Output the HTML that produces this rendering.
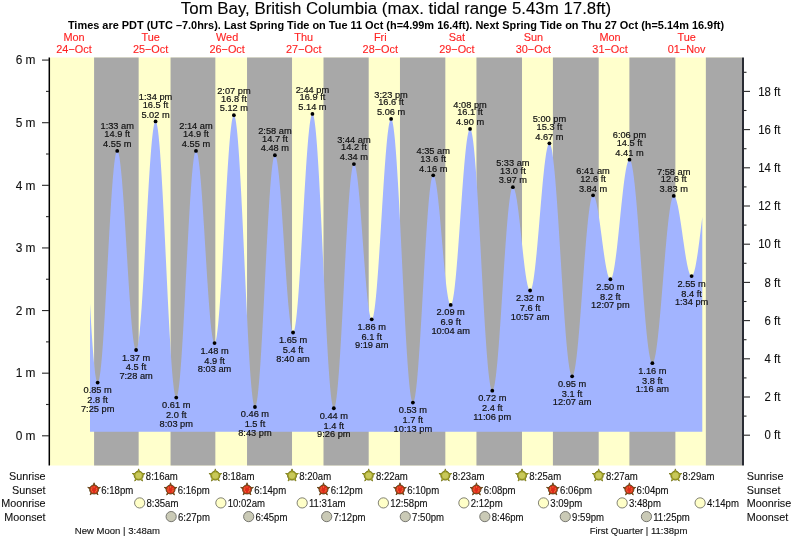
<!DOCTYPE html>
<html><head><meta charset="utf-8"><title>Tom Bay tide chart</title><style>
html,body{margin:0;padding:0;background:#fff;width:793px;height:539px;overflow:hidden}
svg{display:block;will-change:transform}
text{font-family:"Liberation Sans",Arial,Helvetica,sans-serif;fill:#111}
.title{font-size:16.85px;fill:#000;stroke:#000;stroke-width:0.1px}
.sub{font-size:10.95px;font-weight:bold;fill:#000}
.day{font-size:10.9px;fill:#ff2222;stroke:#ff2222;stroke-width:0.12px}
.ax{font-size:11.4px;fill:#111;stroke:#111;stroke-width:0.1px}
.axl{font-size:11.9px;fill:#111;stroke:#111;stroke-width:0.1px}
.tl{font-size:9.25px;fill:#111;stroke:#111;stroke-width:0.18px}
.ev{font-size:9.6px;fill:#111;stroke:#111;stroke-width:0.12px}
.rl{font-size:10.8px;fill:#111;stroke:#111;stroke-width:0.1px}
.ph{font-size:9.55px;fill:#111;white-space:pre;stroke:#111;stroke-width:0.12px}
</style></head>
<body><svg width="793" height="539" viewBox="0 0 793 539">

<rect x="50" y="57.5" width="692" height="408" fill="#ffffcc"/>
<rect x="94.09" y="57.5" width="44.56" height="408" fill="#a8a8a8"/>
<rect x="170.56" y="57.5" width="44.78" height="408" fill="#a8a8a8"/>
<rect x="247.03" y="57.5" width="44.99" height="408" fill="#a8a8a8"/>
<rect x="323.50" y="57.5" width="45.20" height="408" fill="#a8a8a8"/>
<rect x="399.97" y="57.5" width="45.36" height="408" fill="#a8a8a8"/>
<rect x="476.44" y="57.5" width="45.57" height="408" fill="#a8a8a8"/>
<rect x="552.91" y="57.5" width="45.79" height="408" fill="#a8a8a8"/>
<rect x="629.38" y="57.5" width="46.00" height="408" fill="#a8a8a8"/>
<rect x="705.85" y="57.5" width="36.15" height="408" fill="#a8a8a8"/>
<polygon points="90.00,431.80 90.00,303.78 90.44,311.61 90.87,319.18 91.31,326.46 91.75,333.41 92.19,340.01 92.62,346.22 93.06,352.01 93.50,357.37 93.94,362.26 94.37,366.66 94.81,370.56 95.25,373.93 95.69,376.77 96.12,379.05 96.56,380.77 97.00,381.93 97.44,382.50 97.87,382.50 98.31,381.93 98.75,380.79 99.18,379.09 99.62,376.83 100.06,374.04 100.50,370.71 100.93,366.87 101.37,362.54 101.81,357.73 102.25,352.48 102.68,346.80 103.12,340.73 103.56,334.30 104.00,327.53 104.43,320.47 104.87,313.13 105.31,305.57 105.74,297.82 106.18,289.91 106.62,281.89 107.06,273.80 107.49,265.67 107.93,257.55 108.37,249.47 108.81,241.47 109.24,233.61 109.68,225.90 110.12,218.39 110.56,211.13 110.99,204.13 111.43,197.45 111.87,191.11 112.31,185.14 112.74,179.57 113.18,174.43 113.62,169.74 114.05,165.54 114.49,161.83 114.93,158.64 115.37,155.98 115.80,153.87 116.24,152.31 116.68,151.32 117.12,150.90 117.55,151.03 117.99,151.69 118.43,152.88 118.87,154.58 119.30,156.79 119.74,159.49 120.18,162.68 120.61,166.33 121.05,170.43 121.49,174.95 121.93,179.87 122.36,185.16 122.80,190.80 123.24,196.76 123.68,202.99 124.11,209.49 124.55,216.19 124.99,223.08 125.43,230.12 125.86,237.26 126.30,244.47 126.74,251.71 127.18,258.95 127.61,266.14 128.05,273.25 128.49,280.23 128.92,287.06 129.36,293.70 129.80,300.11 130.24,306.25 130.67,312.10 131.11,317.62 131.55,322.79 131.99,327.57 132.42,331.94 132.86,335.89 133.30,339.38 133.74,342.40 134.17,344.93 134.61,346.96 135.05,348.49 135.49,349.49 135.92,349.97 136.36,349.91 136.80,349.29 137.23,348.10 137.67,346.35 138.11,344.06 138.55,341.22 138.98,337.86 139.42,333.98 139.86,329.62 140.30,324.79 140.73,319.52 141.17,313.83 141.61,307.75 142.05,301.31 142.48,294.55 142.92,287.49 143.36,280.17 143.79,272.64 144.23,264.92 144.67,257.05 145.11,249.08 145.54,241.04 145.98,232.97 146.42,224.92 146.86,216.92 147.29,209.02 147.73,201.25 148.17,193.65 148.61,186.26 149.04,179.12 149.48,172.25 149.92,165.71 150.36,159.51 150.79,153.70 151.23,148.29 151.67,143.32 152.10,138.80 152.54,134.77 152.98,131.25 153.42,128.24 153.85,125.77 154.29,123.85 154.73,122.48 155.17,121.68 155.60,121.45 156.04,121.81 156.48,122.78 156.92,124.35 157.35,126.51 157.79,129.27 158.23,132.59 158.67,136.48 159.10,140.91 159.54,145.86 159.98,151.32 160.41,157.25 160.85,163.63 161.29,170.43 161.73,177.63 162.16,185.19 162.60,193.08 163.04,201.26 163.48,209.70 163.91,218.35 164.35,227.19 164.79,236.17 165.23,245.25 165.66,254.40 166.10,263.57 166.54,272.72 166.97,281.82 167.41,290.81 167.85,299.67 168.29,308.35 168.72,316.81 169.16,325.02 169.60,332.95 170.04,340.55 170.47,347.79 170.91,354.64 171.35,361.08 171.79,367.06 172.22,372.57 172.66,377.59 173.10,382.08 173.54,386.03 173.97,389.42 174.41,392.24 174.85,394.48 175.28,396.12 175.72,397.16 176.16,397.59 176.60,397.41 177.03,396.64 177.47,395.28 177.91,393.33 178.35,390.80 178.78,387.70 179.22,384.06 179.66,379.88 180.10,375.19 180.53,370.01 180.97,364.37 181.41,358.29 181.84,351.80 182.28,344.94 182.72,337.73 183.16,330.22 183.59,322.43 184.03,314.41 184.47,306.20 184.91,297.83 185.34,289.35 185.78,280.79 186.22,272.20 186.66,263.63 187.09,255.10 187.53,246.67 187.97,238.37 188.41,230.24 188.84,222.33 189.28,214.66 189.72,207.29 190.15,200.24 190.59,193.55 191.03,187.26 191.47,181.38 191.90,175.95 192.34,171.01 192.78,166.56 193.22,162.63 193.65,159.24 194.09,156.41 194.53,154.16 194.97,152.48 195.40,151.40 195.84,150.91 196.28,151.00 196.72,151.62 197.15,152.77 197.59,154.43 198.03,156.60 198.46,159.26 198.90,162.40 199.34,166.01 199.78,170.06 200.21,174.53 200.65,179.40 201.09,184.64 201.53,190.22 201.96,196.12 202.40,202.29 202.84,208.70 203.28,215.33 203.71,222.13 204.15,229.06 204.59,236.10 205.02,243.19 205.46,250.31 205.90,257.40 206.34,264.44 206.77,271.39 207.21,278.20 207.65,284.84 208.09,291.27 208.52,297.46 208.96,303.37 209.40,308.97 209.84,314.24 210.27,319.14 210.71,323.64 211.15,327.72 211.59,331.36 212.02,334.54 212.46,337.23 212.90,339.44 213.33,341.13 213.77,342.31 214.21,342.97 214.65,343.10 215.08,342.68 215.52,341.68 215.96,340.11 216.40,337.98 216.83,335.31 217.27,332.10 217.71,328.37 218.15,324.15 218.58,319.44 219.02,314.28 219.46,308.69 219.90,302.70 220.33,296.34 220.77,289.64 221.21,282.64 221.64,275.37 222.08,267.87 222.52,260.17 222.96,252.31 223.39,244.34 223.83,236.29 224.27,228.20 224.71,220.12 225.14,212.09 225.58,204.14 226.02,196.32 226.46,188.66 226.89,181.20 227.33,173.99 227.77,167.06 228.20,160.44 228.64,154.16 229.08,148.26 229.52,142.77 229.95,137.72 230.39,133.12 230.83,129.01 231.27,125.41 231.70,122.32 232.14,119.78 232.58,117.78 233.02,116.35 233.45,115.48 233.89,115.19 234.33,115.49 234.77,116.41 235.20,117.95 235.64,120.10 236.08,122.85 236.51,126.18 236.95,130.09 237.39,134.56 237.83,139.56 238.26,145.09 238.70,151.10 239.14,157.59 239.58,164.51 240.01,171.85 240.45,179.57 240.89,187.63 241.33,196.01 241.76,204.66 242.20,213.55 242.64,222.65 243.07,231.90 243.51,241.29 243.95,250.75 244.39,260.27 244.82,269.78 245.26,279.26 245.70,288.66 246.14,297.94 246.57,307.07 247.01,316.00 247.45,324.69 247.89,333.12 248.32,341.24 248.76,349.02 249.20,356.42 249.64,363.42 250.07,369.99 250.51,376.08 250.95,381.70 251.38,386.79 251.82,391.35 252.26,395.36 252.70,398.80 253.13,401.65 253.57,403.90 254.01,405.55 254.45,406.58 254.88,406.99 255.32,406.78 255.76,405.99 256.20,404.60 256.63,402.62 257.07,400.07 257.51,396.95 257.95,393.28 258.38,389.08 258.82,384.37 259.26,379.17 259.69,373.50 260.13,367.39 260.57,360.88 261.01,353.99 261.44,346.75 261.88,339.20 262.32,331.37 262.76,323.31 263.19,315.04 263.63,306.62 264.07,298.07 264.51,289.44 264.94,280.78 265.38,272.11 265.82,263.49 266.25,254.95 266.69,246.54 267.13,238.29 267.57,230.24 268.00,222.44 268.44,214.91 268.88,207.70 269.32,200.84 269.75,194.35 270.19,188.28 270.63,182.65 271.07,177.49 271.50,172.82 271.94,168.66 272.38,165.04 272.82,161.96 273.25,159.46 273.69,157.53 274.13,156.18 274.56,155.43 275.00,155.28 275.44,155.65 275.88,156.53 276.31,157.91 276.75,159.77 277.19,162.12 277.63,164.93 278.06,168.20 278.50,171.89 278.94,176.00 279.38,180.49 279.81,185.35 280.25,190.53 280.69,196.03 281.13,201.79 281.56,207.80 282.00,214.01 282.44,220.39 282.87,226.91 283.31,233.52 283.75,240.19 284.19,246.88 284.62,253.56 285.06,260.18 285.50,266.71 285.94,273.10 286.37,279.33 286.81,285.36 287.25,291.15 287.69,296.67 288.12,301.89 288.56,306.78 289.00,311.31 289.43,315.46 289.87,319.19 290.31,322.50 290.75,325.36 291.18,327.75 291.62,329.67 292.06,331.09 292.50,332.02 292.93,332.45 293.37,332.36 293.81,331.72 294.25,330.54 294.68,328.81 295.12,326.56 295.56,323.78 296.00,320.50 296.43,316.73 296.87,312.48 297.31,307.79 297.74,302.67 298.18,297.15 298.62,291.26 299.06,285.02 299.49,278.48 299.93,271.65 300.37,264.58 300.81,257.31 301.24,249.86 301.68,242.27 302.12,234.59 302.56,226.86 302.99,219.10 303.43,211.37 303.87,203.69 304.30,196.12 304.74,188.68 305.18,181.41 305.62,174.36 306.05,167.55 306.49,161.02 306.93,154.80 307.37,148.93 307.80,143.43 308.24,138.34 308.68,133.67 309.12,129.45 309.55,125.71 309.99,122.45 310.43,119.71 310.87,117.48 311.30,115.79 311.74,114.64 312.18,114.03 312.61,113.98 313.05,114.53 313.49,115.68 313.93,117.43 314.36,119.78 314.80,122.71 315.24,126.21 315.68,130.26 316.11,134.86 316.55,139.98 316.99,145.60 317.43,151.70 317.86,158.24 318.30,165.22 318.74,172.58 319.18,180.32 319.61,188.39 320.05,196.75 320.49,205.39 320.92,214.25 321.36,223.31 321.80,232.52 322.24,241.85 322.67,251.26 323.11,260.71 323.55,270.16 323.99,279.58 324.42,288.92 324.86,298.14 325.30,307.21 325.74,316.09 326.17,324.74 326.61,333.13 327.05,341.23 327.48,348.99 327.92,356.39 328.36,363.39 328.80,369.98 329.23,376.11 329.67,381.77 330.11,386.93 330.55,391.57 330.98,395.67 331.42,399.21 331.86,402.19 332.30,404.58 332.73,406.38 333.17,407.58 333.61,408.18 334.05,408.17 334.48,407.59 334.92,406.44 335.36,404.73 335.79,402.46 336.23,399.66 336.67,396.32 337.11,392.47 337.54,388.12 337.98,383.29 338.42,378.01 338.86,372.31 339.29,366.19 339.73,359.71 340.17,352.88 340.61,345.74 341.04,338.32 341.48,330.66 341.92,322.79 342.36,314.75 342.79,306.58 343.23,298.31 343.67,289.98 344.10,281.63 344.54,273.31 344.98,265.05 345.42,256.88 345.85,248.85 346.29,241.00 346.73,233.35 347.17,225.96 347.60,218.84 348.04,212.04 348.48,205.58 348.92,199.50 349.35,193.83 349.79,188.58 350.23,183.80 350.66,179.49 351.10,175.67 351.54,172.38 351.98,169.61 352.41,167.39 352.85,165.72 353.29,164.62 353.73,164.08 354.16,164.10 354.60,164.59 355.04,165.54 355.48,166.94 355.91,168.78 356.35,171.06 356.79,173.76 357.23,176.86 357.66,180.34 358.10,184.19 358.54,188.39 358.97,192.90 359.41,197.70 359.85,202.76 360.29,208.05 360.72,213.54 361.16,219.20 361.60,225.00 362.04,230.89 362.47,236.85 362.91,242.83 363.35,248.81 363.79,254.75 364.22,260.61 364.66,266.35 365.10,271.95 365.53,277.37 365.97,282.58 366.41,287.54 366.85,292.23 367.28,296.62 367.72,300.69 368.16,304.40 368.60,307.74 369.03,310.69 369.47,313.23 369.91,315.34 370.35,317.01 370.78,318.24 371.22,319.01 371.66,319.32 372.10,319.15 372.53,318.49 372.97,317.32 373.41,315.65 373.84,313.50 374.28,310.88 374.72,307.79 375.16,304.26 375.59,300.30 376.03,295.93 376.47,291.17 376.91,286.05 377.34,280.59 377.78,274.82 378.22,268.78 378.66,262.48 379.09,255.96 379.53,249.26 379.97,242.41 380.41,235.44 380.84,228.39 381.28,221.29 381.72,214.18 382.15,207.09 382.59,200.07 383.03,193.14 383.47,186.35 383.90,179.71 384.34,173.28 384.78,167.08 385.22,161.14 385.65,155.49 386.09,150.16 386.53,145.18 386.97,140.57 387.40,136.36 387.84,132.57 388.28,129.21 388.71,126.30 389.15,123.86 389.59,121.90 390.03,120.43 390.46,119.46 390.90,118.99 391.34,119.03 391.78,119.63 392.21,120.80 392.65,122.51 393.09,124.78 393.53,127.58 393.96,130.92 394.40,134.77 394.84,139.12 395.28,143.95 395.71,149.25 396.15,154.99 396.59,161.15 397.02,167.70 397.46,174.63 397.90,181.90 398.34,189.48 398.77,197.34 399.21,205.45 399.65,213.79 400.09,222.31 400.52,230.98 400.96,239.78 401.40,248.65 401.84,257.57 402.27,266.51 402.71,275.42 403.15,284.28 403.59,293.04 404.02,301.68 404.46,310.15 404.90,318.42 405.33,326.47 405.77,334.26 406.21,341.75 406.65,348.92 407.08,355.75 407.52,362.19 407.96,368.24 408.40,373.85 408.83,379.02 409.27,383.72 409.71,387.93 410.15,391.63 410.58,394.82 411.02,397.47 411.46,399.58 411.89,401.14 412.33,402.15 412.77,402.59 413.21,402.48 413.64,401.85 414.08,400.70 414.52,399.04 414.96,396.88 415.39,394.22 415.83,391.09 416.27,387.48 416.71,383.43 417.14,378.94 417.58,374.04 418.02,368.76 418.46,363.10 418.89,357.11 419.33,350.81 419.77,344.22 420.20,337.39 420.64,330.33 421.08,323.08 421.52,315.67 421.95,308.14 422.39,300.53 422.83,292.86 423.27,285.17 423.70,277.51 424.14,269.89 424.58,262.36 425.02,254.95 425.45,247.70 425.89,240.64 426.33,233.80 426.76,227.21 427.20,220.90 427.64,214.90 428.08,209.24 428.51,203.95 428.95,199.05 429.39,194.55 429.83,190.49 430.26,186.88 430.70,183.74 431.14,181.07 431.58,178.90 432.01,177.24 432.45,176.08 432.89,175.44 433.33,175.32 433.76,175.62 434.20,176.33 434.64,177.42 435.07,178.91 435.51,180.77 435.95,183.00 436.39,185.58 436.82,188.49 437.26,191.72 437.70,195.26 438.14,199.06 438.57,203.13 439.01,207.42 439.45,211.91 439.89,216.57 440.32,221.38 440.76,226.31 441.20,231.32 441.64,236.38 442.07,241.47 442.51,246.55 442.95,251.59 443.38,256.56 443.82,261.43 444.26,266.16 444.70,270.74 445.13,275.12 445.57,279.29 446.01,283.22 446.45,286.89 446.88,290.26 447.32,293.33 447.76,296.07 448.20,298.46 448.63,300.49 449.07,302.16 449.51,303.43 449.94,304.32 450.38,304.82 450.82,304.91 451.26,304.57 451.69,303.79 452.13,302.57 452.57,300.92 453.01,298.85 453.44,296.37 453.88,293.48 454.32,290.21 454.76,286.57 455.19,282.58 455.63,278.26 456.07,273.64 456.51,268.72 456.94,263.55 457.38,258.14 457.82,252.52 458.25,246.72 458.69,240.77 459.13,234.71 459.57,228.55 460.00,222.34 460.44,216.10 460.88,209.86 461.32,203.66 461.75,197.52 462.19,191.48 462.63,185.58 463.07,179.83 463.50,174.26 463.94,168.91 464.38,163.81 464.82,158.97 465.25,154.42 465.69,150.19 466.13,146.29 466.56,142.75 467.00,139.58 467.44,136.81 467.88,134.43 468.31,132.47 468.75,130.94 469.19,129.84 469.63,129.18 470.06,128.96 470.50,129.22 470.94,129.97 471.38,131.22 471.81,132.95 472.25,135.18 472.69,137.88 473.12,141.04 473.56,144.66 474.00,148.72 474.44,153.21 474.87,158.10 475.31,163.38 475.75,169.03 476.19,175.02 476.62,181.34 477.06,187.96 477.50,194.85 477.94,202.00 478.37,209.36 478.81,216.91 479.25,224.63 479.69,232.49 480.12,240.44 480.56,248.48 481.00,256.55 481.43,264.64 481.87,272.71 482.31,280.73 482.75,288.67 483.18,296.50 483.62,304.19 484.06,311.72 484.50,319.04 484.93,326.14 485.37,332.98 485.81,339.54 486.25,345.80 486.68,351.74 487.12,357.32 487.56,362.53 487.99,367.34 488.43,371.75 488.87,375.73 489.31,379.26 489.74,382.34 490.18,384.95 490.62,387.09 491.06,388.73 491.49,389.89 491.93,390.55 492.37,390.71 492.81,390.40 493.24,389.64 493.68,388.43 494.12,386.77 494.56,384.69 494.99,382.17 495.43,379.24 495.87,375.91 496.30,372.19 496.74,368.10 497.18,363.65 497.62,358.88 498.05,353.79 498.49,348.41 498.93,342.77 499.37,336.89 499.80,330.79 500.24,324.51 500.68,318.07 501.12,311.50 501.55,304.83 501.99,298.09 502.43,291.31 502.87,284.52 503.30,277.74 503.74,271.02 504.18,264.38 504.61,257.85 505.05,251.45 505.49,245.22 505.93,239.19 506.36,233.38 506.80,227.82 507.24,222.53 507.68,217.53 508.11,212.86 508.55,208.52 508.99,204.54 509.43,200.94 509.86,197.73 510.30,194.92 510.74,192.54 511.17,190.58 511.61,189.07 512.05,187.99 512.49,187.37 512.92,187.20 513.36,187.41 513.80,187.94 514.24,188.80 514.67,189.97 515.11,191.46 515.55,193.24 515.99,195.32 516.42,197.67 516.86,200.29 517.30,203.15 517.74,206.23 518.17,209.53 518.61,213.01 519.05,216.65 519.48,220.44 519.92,224.34 520.36,228.34 520.80,232.40 521.23,236.51 521.67,240.63 522.11,244.73 522.55,248.80 522.98,252.81 523.42,256.73 523.86,260.53 524.30,264.20 524.73,267.71 525.17,271.03 525.61,274.15 526.05,277.04 526.48,279.69 526.92,282.08 527.36,284.20 527.79,286.03 528.23,287.56 528.67,288.78 529.11,289.68 529.54,290.26 529.98,290.51 530.42,290.42 530.86,289.96 531.29,289.14 531.73,287.94 532.17,286.39 532.61,284.48 533.04,282.24 533.48,279.66 533.92,276.77 534.35,273.57 534.79,270.08 535.23,266.33 535.67,262.32 536.10,258.09 536.54,253.65 536.98,249.02 537.42,244.23 537.85,239.30 538.29,234.26 538.73,229.13 539.17,223.94 539.60,218.71 540.04,213.48 540.48,208.26 540.92,203.08 541.35,197.98 541.79,192.97 542.23,188.08 542.66,183.34 543.10,178.77 543.54,174.40 543.98,170.24 544.41,166.31 544.85,162.64 545.29,159.25 545.73,156.15 546.16,153.35 546.60,150.88 547.04,148.75 547.48,146.95 547.91,145.52 548.35,144.44 548.79,143.73 549.22,143.40 549.66,143.44 550.10,143.91 550.54,144.80 550.97,146.11 551.41,147.84 551.85,149.97 552.29,152.51 552.72,155.45 553.16,158.76 553.60,162.44 554.04,166.49 554.47,170.87 554.91,175.58 555.35,180.59 555.79,185.90 556.22,191.48 556.66,197.31 557.10,203.36 557.53,209.63 557.97,216.07 558.41,222.68 558.85,229.43 559.28,236.28 559.72,243.22 560.16,250.22 560.60,257.26 561.03,264.31 561.47,271.34 561.91,278.32 562.35,285.24 562.78,292.07 563.22,298.78 563.66,305.35 564.10,311.75 564.53,317.96 564.97,323.96 565.41,329.72 565.84,335.23 566.28,340.46 566.72,345.39 567.16,350.02 567.59,354.31 568.03,358.26 568.47,361.84 568.91,365.06 569.34,367.88 569.78,370.32 570.22,372.34 570.66,373.96 571.09,375.16 571.53,375.94 571.97,376.29 572.40,376.22 572.84,375.77 573.28,374.92 573.72,373.70 574.15,372.09 574.59,370.12 575.03,367.78 575.47,365.09 575.90,362.06 576.34,358.70 576.78,355.03 577.22,351.06 577.65,346.81 578.09,342.30 578.53,337.55 578.97,332.57 579.40,327.39 579.84,322.04 580.28,316.53 580.71,310.88 581.15,305.13 581.59,299.30 582.03,293.40 582.46,287.48 582.90,281.55 583.34,275.63 583.78,269.76 584.21,263.96 584.65,258.25 585.09,252.67 585.53,247.22 585.96,241.94 586.40,236.85 586.84,231.97 587.28,227.32 587.71,222.92 588.15,218.79 588.59,214.96 589.02,211.42 589.46,208.21 589.90,205.33 590.34,202.79 590.77,200.61 591.21,198.80 591.65,197.36 592.09,196.31 592.52,195.63 592.96,195.35 593.40,195.42 593.84,195.75 594.27,196.34 594.71,197.20 595.15,198.30 595.58,199.65 596.02,201.23 596.46,203.04 596.90,205.07 597.33,207.30 597.77,209.71 598.21,212.30 598.65,215.05 599.08,217.94 599.52,220.94 599.96,224.05 600.40,227.25 600.83,230.50 601.27,233.80 601.71,237.12 602.15,240.45 602.58,243.75 603.02,247.01 603.46,250.21 603.89,253.33 604.33,256.35 604.77,259.25 605.21,262.01 605.64,264.62 606.08,267.05 606.52,269.30 606.96,271.35 607.39,273.18 607.83,274.79 608.27,276.16 608.71,277.29 609.14,278.17 609.58,278.79 610.02,279.15 610.45,279.25 610.89,279.05 611.33,278.55 611.77,277.74 612.20,276.63 612.64,275.22 613.08,273.52 613.52,271.55 613.95,269.30 614.39,266.80 614.83,264.05 615.27,261.07 615.70,257.87 616.14,254.48 616.58,250.90 617.02,247.16 617.45,243.28 617.89,239.28 618.33,235.17 618.76,230.98 619.20,226.73 619.64,222.44 620.08,218.14 620.51,213.84 620.95,209.58 621.39,205.36 621.83,201.22 622.26,197.17 622.70,193.24 623.14,189.44 623.58,185.80 624.01,182.33 624.45,179.05 624.89,175.99 625.33,173.15 625.76,170.54 626.20,168.20 626.64,166.11 627.07,164.31 627.51,162.78 627.95,161.56 628.39,160.63 628.82,160.00 629.26,159.69 629.70,159.69 630.14,160.05 630.57,160.77 631.01,161.86 631.45,163.31 631.89,165.11 632.32,167.26 632.76,169.75 633.20,172.57 633.63,175.71 634.07,179.16 634.51,182.91 634.95,186.94 635.38,191.24 635.82,195.79 636.26,200.58 636.70,205.58 637.13,210.79 637.57,216.19 638.01,221.74 638.45,227.44 638.88,233.26 639.32,239.19 639.76,245.19 640.20,251.25 640.63,257.35 641.07,263.46 641.51,269.57 641.94,275.65 642.38,281.67 642.82,287.62 643.26,293.48 643.69,299.22 644.13,304.83 644.57,310.27 645.01,315.54 645.44,320.62 645.88,325.48 646.32,330.11 646.76,334.50 647.19,338.62 647.63,342.46 648.07,346.01 648.51,349.25 648.94,352.17 649.38,354.77 649.82,357.03 650.25,358.95 650.69,360.51 651.13,361.72 651.57,362.56 652.00,363.04 652.44,363.15 652.88,362.91 653.32,362.33 653.75,361.40 654.19,360.14 654.63,358.54 655.07,356.62 655.50,354.38 655.94,351.83 656.38,348.98 656.81,345.85 657.25,342.44 657.69,338.77 658.13,334.86 658.56,330.72 659.00,326.36 659.44,321.82 659.88,317.10 660.31,312.22 660.75,307.21 661.19,302.09 661.63,296.87 662.06,291.58 662.50,286.24 662.94,280.88 663.38,275.51 663.81,270.15 664.25,264.84 664.69,259.58 665.12,254.41 665.56,249.34 666.00,244.40 666.44,239.60 666.87,234.96 667.31,230.51 667.75,226.27 668.19,222.24 668.62,218.45 669.06,214.91 669.50,211.64 669.94,208.65 670.37,205.96 670.81,203.56 671.25,201.48 671.68,199.73 672.12,198.30 672.56,197.21 673.00,196.45 673.43,196.05 673.87,195.98 674.31,196.17 674.75,196.60 675.18,197.26 675.62,198.15 676.06,199.27 676.50,200.60 676.93,202.14 677.37,203.88 677.81,205.82 678.25,207.93 678.68,210.20 679.12,212.63 679.56,215.20 679.99,217.89 680.43,220.69 680.87,223.58 681.31,226.55 681.74,229.56 682.18,232.62 682.62,235.70 683.06,238.78 683.49,241.84 683.93,244.87 684.37,247.85 684.81,250.76 685.24,253.58 685.68,256.29 686.12,258.89 686.56,261.35 686.99,263.66 687.43,265.81 687.87,267.79 688.30,269.57 688.74,271.16 689.18,272.54 689.62,273.70 690.05,274.64 690.49,275.36 690.93,275.84 691.37,276.08 691.80,276.09 692.24,275.84 692.68,275.34 693.12,274.58 693.55,273.56 693.99,272.31 694.43,270.81 694.86,269.09 695.30,267.14 695.74,264.98 696.18,262.62 696.61,260.07 697.05,257.35 697.49,254.47 697.93,251.44 698.36,248.28 698.80,245.02 699.24,241.65 699.68,238.21 700.11,234.71 700.55,231.17 700.99,227.61 701.43,224.04 701.86,220.49 702.30,216.98 702.30,431.80" fill="#a2b4ff"/>
<line x1="49.3" y1="57.5" x2="49.3" y2="465.5" stroke="#000" stroke-width="1.5"/>
<line x1="743" y1="57.5" x2="743" y2="465.5" stroke="#2a2c34" stroke-width="2"/>
<line x1="42" y1="435.80" x2="49" y2="435.80" stroke="#2a2a2a" stroke-width="1.1"/>
<text x="35.50" y="440.00" class="axl" text-anchor="end">0 m</text>
<line x1="42" y1="373.18" x2="49" y2="373.18" stroke="#2a2a2a" stroke-width="1.1"/>
<text x="35.50" y="377.38" class="axl" text-anchor="end">1 m</text>
<line x1="42" y1="310.56" x2="49" y2="310.56" stroke="#2a2a2a" stroke-width="1.1"/>
<text x="35.50" y="314.76" class="axl" text-anchor="end">2 m</text>
<line x1="42" y1="247.94" x2="49" y2="247.94" stroke="#2a2a2a" stroke-width="1.1"/>
<text x="35.50" y="252.14" class="axl" text-anchor="end">3 m</text>
<line x1="42" y1="185.32" x2="49" y2="185.32" stroke="#2a2a2a" stroke-width="1.1"/>
<text x="35.50" y="189.52" class="axl" text-anchor="end">4 m</text>
<line x1="42" y1="122.70" x2="49" y2="122.70" stroke="#2a2a2a" stroke-width="1.1"/>
<text x="35.50" y="126.90" class="axl" text-anchor="end">5 m</text>
<line x1="42" y1="60.08" x2="49" y2="60.08" stroke="#2a2a2a" stroke-width="1.1"/>
<text x="35.50" y="64.28" class="axl" text-anchor="end">6 m</text>
<line x1="46" y1="404.49" x2="49" y2="404.49" stroke="#2a2a2a" stroke-width="1.1"/>
<line x1="46" y1="341.87" x2="49" y2="341.87" stroke="#2a2a2a" stroke-width="1.1"/>
<line x1="46" y1="279.25" x2="49" y2="279.25" stroke="#2a2a2a" stroke-width="1.1"/>
<line x1="46" y1="216.63" x2="49" y2="216.63" stroke="#2a2a2a" stroke-width="1.1"/>
<line x1="46" y1="154.01" x2="49" y2="154.01" stroke="#2a2a2a" stroke-width="1.1"/>
<line x1="46" y1="91.39" x2="49" y2="91.39" stroke="#2a2a2a" stroke-width="1.1"/>
<line x1="744" y1="435.20" x2="750" y2="435.20" stroke="#2a2a2a" stroke-width="1.1"/>
<text transform="translate(780.40 439.40) scale(1 1.060)" class="ax" text-anchor="end">0 ft</text>
<line x1="744" y1="416.10" x2="746.5" y2="416.10" stroke="#2a2a2a" stroke-width="1.1"/>
<line x1="744" y1="397.00" x2="750" y2="397.00" stroke="#2a2a2a" stroke-width="1.1"/>
<text transform="translate(780.40 401.20) scale(1 1.060)" class="ax" text-anchor="end">2 ft</text>
<line x1="744" y1="377.90" x2="746.5" y2="377.90" stroke="#2a2a2a" stroke-width="1.1"/>
<line x1="744" y1="358.80" x2="750" y2="358.80" stroke="#2a2a2a" stroke-width="1.1"/>
<text transform="translate(780.40 363.00) scale(1 1.060)" class="ax" text-anchor="end">4 ft</text>
<line x1="744" y1="339.70" x2="746.5" y2="339.70" stroke="#2a2a2a" stroke-width="1.1"/>
<line x1="744" y1="320.60" x2="750" y2="320.60" stroke="#2a2a2a" stroke-width="1.1"/>
<text transform="translate(780.40 324.80) scale(1 1.060)" class="ax" text-anchor="end">6 ft</text>
<line x1="744" y1="301.50" x2="746.5" y2="301.50" stroke="#2a2a2a" stroke-width="1.1"/>
<line x1="744" y1="282.40" x2="750" y2="282.40" stroke="#2a2a2a" stroke-width="1.1"/>
<text transform="translate(780.40 286.60) scale(1 1.060)" class="ax" text-anchor="end">8 ft</text>
<line x1="744" y1="263.30" x2="746.5" y2="263.30" stroke="#2a2a2a" stroke-width="1.1"/>
<line x1="744" y1="244.20" x2="750" y2="244.20" stroke="#2a2a2a" stroke-width="1.1"/>
<text transform="translate(780.40 248.40) scale(1 1.060)" class="ax" text-anchor="end">10 ft</text>
<line x1="744" y1="225.10" x2="746.5" y2="225.10" stroke="#2a2a2a" stroke-width="1.1"/>
<line x1="744" y1="206.00" x2="750" y2="206.00" stroke="#2a2a2a" stroke-width="1.1"/>
<text transform="translate(780.40 210.20) scale(1 1.060)" class="ax" text-anchor="end">12 ft</text>
<line x1="744" y1="186.90" x2="746.5" y2="186.90" stroke="#2a2a2a" stroke-width="1.1"/>
<line x1="744" y1="167.80" x2="750" y2="167.80" stroke="#2a2a2a" stroke-width="1.1"/>
<text transform="translate(780.40 172.00) scale(1 1.060)" class="ax" text-anchor="end">14 ft</text>
<line x1="744" y1="148.70" x2="746.5" y2="148.70" stroke="#2a2a2a" stroke-width="1.1"/>
<line x1="744" y1="129.60" x2="750" y2="129.60" stroke="#2a2a2a" stroke-width="1.1"/>
<text transform="translate(780.40 133.80) scale(1 1.060)" class="ax" text-anchor="end">16 ft</text>
<line x1="744" y1="110.50" x2="746.5" y2="110.50" stroke="#2a2a2a" stroke-width="1.1"/>
<line x1="744" y1="91.40" x2="750" y2="91.40" stroke="#2a2a2a" stroke-width="1.1"/>
<text transform="translate(780.40 95.60) scale(1 1.060)" class="ax" text-anchor="end">18 ft</text>
<line x1="744" y1="72.30" x2="746.5" y2="72.30" stroke="#2a2a2a" stroke-width="1.1"/>
<text transform="translate(73.99 41.40) scale(1 1.050)" class="day" text-anchor="middle">Mon</text>
<text transform="translate(73.99 52.80) scale(1 1.050)" class="day" text-anchor="middle">24−Oct</text>
<text transform="translate(150.57 41.40) scale(1 1.050)" class="day" text-anchor="middle">Tue</text>
<text transform="translate(150.57 52.80) scale(1 1.050)" class="day" text-anchor="middle">25−Oct</text>
<text transform="translate(227.14 41.40) scale(1 1.050)" class="day" text-anchor="middle">Wed</text>
<text transform="translate(227.14 52.80) scale(1 1.050)" class="day" text-anchor="middle">26−Oct</text>
<text transform="translate(303.72 41.40) scale(1 1.050)" class="day" text-anchor="middle">Thu</text>
<text transform="translate(303.72 52.80) scale(1 1.050)" class="day" text-anchor="middle">27−Oct</text>
<text transform="translate(380.30 41.40) scale(1 1.050)" class="day" text-anchor="middle">Fri</text>
<text transform="translate(380.30 52.80) scale(1 1.050)" class="day" text-anchor="middle">28−Oct</text>
<text transform="translate(456.87 41.40) scale(1 1.050)" class="day" text-anchor="middle">Sat</text>
<text transform="translate(456.87 52.80) scale(1 1.050)" class="day" text-anchor="middle">29−Oct</text>
<text transform="translate(533.45 41.40) scale(1 1.050)" class="day" text-anchor="middle">Sun</text>
<text transform="translate(533.45 52.80) scale(1 1.050)" class="day" text-anchor="middle">30−Oct</text>
<text transform="translate(610.03 41.40) scale(1 1.050)" class="day" text-anchor="middle">Mon</text>
<text transform="translate(610.03 52.80) scale(1 1.050)" class="day" text-anchor="middle">31−Oct</text>
<text transform="translate(686.60 41.40) scale(1 1.050)" class="day" text-anchor="middle">Tue</text>
<text transform="translate(686.60 52.80) scale(1 1.050)" class="day" text-anchor="middle">01−Nov</text>
<text x="97.65" y="393.07" class="tl" text-anchor="middle">0.85 m</text>
<text x="97.65" y="402.97" class="tl" text-anchor="middle">2.8 ft</text>
<text x="97.65" y="411.67" class="tl" text-anchor="middle">7:25 pm</text>
<circle cx="97.65" cy="382.57" r="1.9" fill="#000"/>
<text x="117.22" y="129.48" class="tl" text-anchor="middle">1:33 am</text>
<text x="117.22" y="137.28" class="tl" text-anchor="middle">14.9 ft</text>
<text x="117.22" y="147.08" class="tl" text-anchor="middle">4.55 m</text>
<circle cx="117.22" cy="150.88" r="1.9" fill="#000"/>
<text x="136.10" y="360.51" class="tl" text-anchor="middle">1.37 m</text>
<text x="136.10" y="370.41" class="tl" text-anchor="middle">4.5 ft</text>
<text x="136.10" y="379.11" class="tl" text-anchor="middle">7:28 am</text>
<circle cx="136.10" cy="350.01" r="1.9" fill="#000"/>
<text x="155.56" y="100.05" class="tl" text-anchor="middle">1:34 pm</text>
<text x="155.56" y="107.85" class="tl" text-anchor="middle">16.5 ft</text>
<text x="155.56" y="117.65" class="tl" text-anchor="middle">5.02 m</text>
<circle cx="155.56" cy="121.45" r="1.9" fill="#000"/>
<text x="176.25" y="408.10" class="tl" text-anchor="middle">0.61 m</text>
<text x="176.25" y="418.00" class="tl" text-anchor="middle">2.0 ft</text>
<text x="176.25" y="426.70" class="tl" text-anchor="middle">8:03 pm</text>
<circle cx="176.25" cy="397.60" r="1.9" fill="#000"/>
<text x="195.98" y="129.48" class="tl" text-anchor="middle">2:14 am</text>
<text x="195.98" y="137.28" class="tl" text-anchor="middle">14.9 ft</text>
<text x="195.98" y="147.08" class="tl" text-anchor="middle">4.55 m</text>
<circle cx="195.98" cy="150.88" r="1.9" fill="#000"/>
<text x="214.54" y="353.62" class="tl" text-anchor="middle">1.48 m</text>
<text x="214.54" y="363.52" class="tl" text-anchor="middle">4.9 ft</text>
<text x="214.54" y="372.22" class="tl" text-anchor="middle">8:03 am</text>
<circle cx="214.54" cy="343.12" r="1.9" fill="#000"/>
<text x="233.90" y="93.79" class="tl" text-anchor="middle">2:07 pm</text>
<text x="233.90" y="101.59" class="tl" text-anchor="middle">16.8 ft</text>
<text x="233.90" y="111.39" class="tl" text-anchor="middle">5.12 m</text>
<circle cx="233.90" cy="115.19" r="1.9" fill="#000"/>
<text x="254.95" y="417.49" class="tl" text-anchor="middle">0.46 m</text>
<text x="254.95" y="427.39" class="tl" text-anchor="middle">1.5 ft</text>
<text x="254.95" y="436.09" class="tl" text-anchor="middle">8:43 pm</text>
<circle cx="254.95" cy="406.99" r="1.9" fill="#000"/>
<text x="274.90" y="133.86" class="tl" text-anchor="middle">2:58 am</text>
<text x="274.90" y="141.66" class="tl" text-anchor="middle">14.7 ft</text>
<text x="274.90" y="151.46" class="tl" text-anchor="middle">4.48 m</text>
<circle cx="274.90" cy="155.26" r="1.9" fill="#000"/>
<text x="293.08" y="342.98" class="tl" text-anchor="middle">1.65 m</text>
<text x="293.08" y="352.88" class="tl" text-anchor="middle">5.4 ft</text>
<text x="293.08" y="361.58" class="tl" text-anchor="middle">8:40 am</text>
<circle cx="293.08" cy="332.48" r="1.9" fill="#000"/>
<text x="312.44" y="92.53" class="tl" text-anchor="middle">2:44 pm</text>
<text x="312.44" y="100.33" class="tl" text-anchor="middle">16.9 ft</text>
<text x="312.44" y="110.13" class="tl" text-anchor="middle">5.14 m</text>
<circle cx="312.44" cy="113.93" r="1.9" fill="#000"/>
<text x="333.82" y="418.75" class="tl" text-anchor="middle">0.44 m</text>
<text x="333.82" y="428.65" class="tl" text-anchor="middle">1.4 ft</text>
<text x="333.82" y="437.35" class="tl" text-anchor="middle">9:26 pm</text>
<circle cx="333.82" cy="408.25" r="1.9" fill="#000"/>
<text x="353.92" y="142.63" class="tl" text-anchor="middle">3:44 am</text>
<text x="353.92" y="150.43" class="tl" text-anchor="middle">14.2 ft</text>
<text x="353.92" y="160.23" class="tl" text-anchor="middle">4.34 m</text>
<circle cx="353.92" cy="164.03" r="1.9" fill="#000"/>
<text x="371.73" y="329.83" class="tl" text-anchor="middle">1.86 m</text>
<text x="371.73" y="339.73" class="tl" text-anchor="middle">6.1 ft</text>
<text x="371.73" y="348.43" class="tl" text-anchor="middle">9:19 am</text>
<circle cx="371.73" cy="319.33" r="1.9" fill="#000"/>
<text x="391.09" y="97.54" class="tl" text-anchor="middle">3:23 pm</text>
<text x="391.09" y="105.34" class="tl" text-anchor="middle">16.6 ft</text>
<text x="391.09" y="115.14" class="tl" text-anchor="middle">5.06 m</text>
<circle cx="391.09" cy="118.94" r="1.9" fill="#000"/>
<text x="412.89" y="413.11" class="tl" text-anchor="middle">0.53 m</text>
<text x="412.89" y="423.01" class="tl" text-anchor="middle">1.7 ft</text>
<text x="412.89" y="431.71" class="tl" text-anchor="middle">10:13 pm</text>
<circle cx="412.89" cy="402.61" r="1.9" fill="#000"/>
<text x="433.21" y="153.90" class="tl" text-anchor="middle">4:35 am</text>
<text x="433.21" y="161.70" class="tl" text-anchor="middle">13.6 ft</text>
<text x="433.21" y="171.50" class="tl" text-anchor="middle">4.16 m</text>
<circle cx="433.21" cy="175.30" r="1.9" fill="#000"/>
<text x="450.70" y="315.42" class="tl" text-anchor="middle">2.09 m</text>
<text x="450.70" y="325.32" class="tl" text-anchor="middle">6.9 ft</text>
<text x="450.70" y="334.02" class="tl" text-anchor="middle">10:04 am</text>
<circle cx="450.70" cy="304.92" r="1.9" fill="#000"/>
<text x="470.06" y="107.56" class="tl" text-anchor="middle">4:08 pm</text>
<text x="470.06" y="115.36" class="tl" text-anchor="middle">16.1 ft</text>
<text x="470.06" y="125.16" class="tl" text-anchor="middle">4.90 m</text>
<circle cx="470.06" cy="128.96" r="1.9" fill="#000"/>
<text x="492.29" y="401.21" class="tl" text-anchor="middle">0.72 m</text>
<text x="492.29" y="411.11" class="tl" text-anchor="middle">2.4 ft</text>
<text x="492.29" y="419.81" class="tl" text-anchor="middle">11:06 pm</text>
<circle cx="492.29" cy="390.71" r="1.9" fill="#000"/>
<text x="512.87" y="165.80" class="tl" text-anchor="middle">5:33 am</text>
<text x="512.87" y="173.60" class="tl" text-anchor="middle">13.0 ft</text>
<text x="512.87" y="183.40" class="tl" text-anchor="middle">3.97 m</text>
<circle cx="512.87" cy="187.20" r="1.9" fill="#000"/>
<text x="530.10" y="301.02" class="tl" text-anchor="middle">2.32 m</text>
<text x="530.10" y="310.92" class="tl" text-anchor="middle">7.6 ft</text>
<text x="530.10" y="319.62" class="tl" text-anchor="middle">10:57 am</text>
<circle cx="530.10" cy="290.52" r="1.9" fill="#000"/>
<text x="549.40" y="121.96" class="tl" text-anchor="middle">5:00 pm</text>
<text x="549.40" y="129.76" class="tl" text-anchor="middle">15.3 ft</text>
<text x="549.40" y="139.56" class="tl" text-anchor="middle">4.67 m</text>
<circle cx="549.40" cy="143.36" r="1.9" fill="#000"/>
<text x="572.11" y="386.81" class="tl" text-anchor="middle">0.95 m</text>
<text x="572.11" y="396.71" class="tl" text-anchor="middle">3.1 ft</text>
<text x="572.11" y="405.41" class="tl" text-anchor="middle">12:07 am</text>
<circle cx="572.11" cy="376.31" r="1.9" fill="#000"/>
<text x="593.06" y="173.94" class="tl" text-anchor="middle">6:41 am</text>
<text x="593.06" y="181.74" class="tl" text-anchor="middle">12.6 ft</text>
<text x="593.06" y="191.54" class="tl" text-anchor="middle">3.84 m</text>
<circle cx="593.06" cy="195.34" r="1.9" fill="#000"/>
<text x="610.40" y="289.75" class="tl" text-anchor="middle">2.50 m</text>
<text x="610.40" y="299.65" class="tl" text-anchor="middle">8.2 ft</text>
<text x="610.40" y="308.35" class="tl" text-anchor="middle">12:07 pm</text>
<circle cx="610.40" cy="279.25" r="1.9" fill="#000"/>
<text x="629.49" y="138.25" class="tl" text-anchor="middle">6:06 pm</text>
<text x="629.49" y="146.05" class="tl" text-anchor="middle">14.5 ft</text>
<text x="629.49" y="155.85" class="tl" text-anchor="middle">4.41 m</text>
<circle cx="629.49" cy="159.65" r="1.9" fill="#000"/>
<text x="652.36" y="373.66" class="tl" text-anchor="middle">1.16 m</text>
<text x="652.36" y="383.56" class="tl" text-anchor="middle">3.8 ft</text>
<text x="652.36" y="392.26" class="tl" text-anchor="middle">1:16 am</text>
<circle cx="652.36" cy="363.16" r="1.9" fill="#000"/>
<text x="673.73" y="174.57" class="tl" text-anchor="middle">7:58 am</text>
<text x="673.73" y="182.37" class="tl" text-anchor="middle">12.6 ft</text>
<text x="673.73" y="192.17" class="tl" text-anchor="middle">3.83 m</text>
<circle cx="673.73" cy="195.97" r="1.9" fill="#000"/>
<text x="691.60" y="286.62" class="tl" text-anchor="middle">2.55 m</text>
<text x="691.60" y="296.52" class="tl" text-anchor="middle">8.4 ft</text>
<text x="691.60" y="305.22" class="tl" text-anchor="middle">1:34 pm</text>
<circle cx="691.60" cy="276.12" r="1.9" fill="#000"/>
<polygon points="138.65,468.90 140.01,473.74 145.03,473.53 140.84,476.31 142.59,481.02 138.65,477.90 134.72,481.02 136.47,476.31 132.28,473.53 137.30,473.74" fill="#a6a62c" stroke="#6c6c16" stroke-width="0.9"/><circle cx="138.65" cy="475.60" r="4.5" fill="#a6a62c" stroke="#6c6c16" stroke-width="0.9"/><polygon points="138.65,468.90 140.01,473.74 145.03,473.53 140.84,476.31 142.59,481.02 138.65,477.90 134.72,481.02 136.47,476.31 132.28,473.53 137.30,473.74" fill="#a6a62c"/><circle cx="138.65" cy="475.60" r="3.10" fill="#c8c85a"/>
<text transform="translate(145.85 480.00) scale(1 1.045)" class="ev">8:16am</text>
<polygon points="215.34,468.90 216.69,473.74 221.71,473.53 217.52,476.31 219.27,481.02 215.34,477.90 211.40,481.02 213.15,476.31 208.96,473.53 213.98,473.74" fill="#a6a62c" stroke="#6c6c16" stroke-width="0.9"/><circle cx="215.34" cy="475.60" r="4.5" fill="#a6a62c" stroke="#6c6c16" stroke-width="0.9"/><polygon points="215.34,468.90 216.69,473.74 221.71,473.53 217.52,476.31 219.27,481.02 215.34,477.90 211.40,481.02 213.15,476.31 208.96,473.53 213.98,473.74" fill="#a6a62c"/><circle cx="215.34" cy="475.60" r="3.10" fill="#c8c85a"/>
<text transform="translate(222.54 480.00) scale(1 1.045)" class="ev">8:18am</text>
<polygon points="292.02,468.90 293.37,473.74 298.39,473.53 294.21,476.31 295.96,481.02 292.02,477.90 288.08,481.02 289.83,476.31 285.65,473.53 290.67,473.74" fill="#a6a62c" stroke="#6c6c16" stroke-width="0.9"/><circle cx="292.02" cy="475.60" r="4.5" fill="#a6a62c" stroke="#6c6c16" stroke-width="0.9"/><polygon points="292.02,468.90 293.37,473.74 298.39,473.53 294.21,476.31 295.96,481.02 292.02,477.90 288.08,481.02 289.83,476.31 285.65,473.53 290.67,473.74" fill="#a6a62c"/><circle cx="292.02" cy="475.60" r="3.10" fill="#c8c85a"/>
<text transform="translate(299.22 480.00) scale(1 1.045)" class="ev">8:20am</text>
<polygon points="368.70,468.90 370.05,473.74 375.07,473.53 370.89,476.31 372.64,481.02 368.70,477.90 364.76,481.02 366.52,476.31 362.33,473.53 367.35,473.74" fill="#a6a62c" stroke="#6c6c16" stroke-width="0.9"/><circle cx="368.70" cy="475.60" r="4.5" fill="#a6a62c" stroke="#6c6c16" stroke-width="0.9"/><polygon points="368.70,468.90 370.05,473.74 375.07,473.53 370.89,476.31 372.64,481.02 368.70,477.90 364.76,481.02 366.52,476.31 362.33,473.53 367.35,473.74" fill="#a6a62c"/><circle cx="368.70" cy="475.60" r="3.10" fill="#c8c85a"/>
<text transform="translate(375.90 480.00) scale(1 1.045)" class="ev">8:22am</text>
<polygon points="445.33,468.90 446.68,473.74 451.70,473.53 447.52,476.31 449.27,481.02 445.33,477.90 441.39,481.02 443.15,476.31 438.96,473.53 443.98,473.74" fill="#a6a62c" stroke="#6c6c16" stroke-width="0.9"/><circle cx="445.33" cy="475.60" r="4.5" fill="#a6a62c" stroke="#6c6c16" stroke-width="0.9"/><polygon points="445.33,468.90 446.68,473.74 451.70,473.53 447.52,476.31 449.27,481.02 445.33,477.90 441.39,481.02 443.15,476.31 438.96,473.53 443.98,473.74" fill="#a6a62c"/><circle cx="445.33" cy="475.60" r="3.10" fill="#c8c85a"/>
<text transform="translate(452.53 480.00) scale(1 1.045)" class="ev">8:23am</text>
<polygon points="522.02,468.90 523.37,473.74 528.39,473.53 524.20,476.31 525.95,481.02 522.02,477.90 518.08,481.02 519.83,476.31 515.64,473.53 520.66,473.74" fill="#a6a62c" stroke="#6c6c16" stroke-width="0.9"/><circle cx="522.02" cy="475.60" r="4.5" fill="#a6a62c" stroke="#6c6c16" stroke-width="0.9"/><polygon points="522.02,468.90 523.37,473.74 528.39,473.53 524.20,476.31 525.95,481.02 522.02,477.90 518.08,481.02 519.83,476.31 515.64,473.53 520.66,473.74" fill="#a6a62c"/><circle cx="522.02" cy="475.60" r="3.10" fill="#c8c85a"/>
<text transform="translate(529.22 480.00) scale(1 1.045)" class="ev">8:25am</text>
<polygon points="598.70,468.90 600.05,473.74 605.07,473.53 600.89,476.31 602.64,481.02 598.70,477.90 594.76,481.02 596.51,476.31 592.33,473.53 597.35,473.74" fill="#a6a62c" stroke="#6c6c16" stroke-width="0.9"/><circle cx="598.70" cy="475.60" r="4.5" fill="#a6a62c" stroke="#6c6c16" stroke-width="0.9"/><polygon points="598.70,468.90 600.05,473.74 605.07,473.53 600.89,476.31 602.64,481.02 598.70,477.90 594.76,481.02 596.51,476.31 592.33,473.53 597.35,473.74" fill="#a6a62c"/><circle cx="598.70" cy="475.60" r="3.10" fill="#c8c85a"/>
<text transform="translate(605.90 480.00) scale(1 1.045)" class="ev">8:27am</text>
<polygon points="675.38,468.90 676.73,473.74 681.75,473.53 677.57,476.31 679.32,481.02 675.38,477.90 671.44,481.02 673.19,476.31 669.01,473.53 674.03,473.74" fill="#a6a62c" stroke="#6c6c16" stroke-width="0.9"/><circle cx="675.38" cy="475.60" r="4.5" fill="#a6a62c" stroke="#6c6c16" stroke-width="0.9"/><polygon points="675.38,468.90 676.73,473.74 681.75,473.53 677.57,476.31 679.32,481.02 675.38,477.90 671.44,481.02 673.19,476.31 669.01,473.53 674.03,473.74" fill="#a6a62c"/><circle cx="675.38" cy="475.60" r="3.10" fill="#c8c85a"/>
<text transform="translate(682.58 480.00) scale(1 1.045)" class="ev">8:29am</text>
<polygon points="94.09,482.80 95.44,487.64 100.46,487.43 96.28,490.21 98.03,494.92 94.09,491.80 90.15,494.92 91.90,490.21 87.72,487.43 92.74,487.64" fill="#8a4818" stroke="#5a4418" stroke-width="0.9"/><circle cx="94.09" cy="489.50" r="4.5" fill="#8a4818" stroke="#5a4418" stroke-width="0.9"/><polygon points="94.09,482.80 95.44,487.64 100.46,487.43 96.28,490.21 98.03,494.92 94.09,491.80 90.15,494.92 91.90,490.21 87.72,487.43 92.74,487.64" fill="#8a4818"/><circle cx="94.09" cy="489.50" r="3.80" fill="#e02a1c"/><circle cx="94.09" cy="486.90" r="0.55" fill="#e8a040"/><circle cx="91.89" cy="487.90" r="0.55" fill="#e8a040"/><circle cx="91.49" cy="489.90" r="0.55" fill="#e8a040"/><circle cx="96.49" cy="488.70" r="0.55" fill="#e8a040"/><circle cx="96.49" cy="490.30" r="0.55" fill="#e8a040"/><circle cx="92.49" cy="491.70" r="0.55" fill="#e8a040"/><circle cx="95.69" cy="491.70" r="0.55" fill="#e8a040"/>
<text transform="translate(101.29 493.60) scale(1 1.045)" class="ev">6:18pm</text>
<polygon points="170.56,482.80 171.91,487.64 176.93,487.43 172.75,490.21 174.50,494.92 170.56,491.80 166.62,494.92 168.37,490.21 164.19,487.43 169.21,487.64" fill="#8a4818" stroke="#5a4418" stroke-width="0.9"/><circle cx="170.56" cy="489.50" r="4.5" fill="#8a4818" stroke="#5a4418" stroke-width="0.9"/><polygon points="170.56,482.80 171.91,487.64 176.93,487.43 172.75,490.21 174.50,494.92 170.56,491.80 166.62,494.92 168.37,490.21 164.19,487.43 169.21,487.64" fill="#8a4818"/><circle cx="170.56" cy="489.50" r="3.80" fill="#e02a1c"/><circle cx="170.56" cy="486.90" r="0.55" fill="#e8a040"/><circle cx="168.36" cy="487.90" r="0.55" fill="#e8a040"/><circle cx="167.96" cy="489.90" r="0.55" fill="#e8a040"/><circle cx="172.96" cy="488.70" r="0.55" fill="#e8a040"/><circle cx="172.96" cy="490.30" r="0.55" fill="#e8a040"/><circle cx="168.96" cy="491.70" r="0.55" fill="#e8a040"/><circle cx="172.16" cy="491.70" r="0.55" fill="#e8a040"/>
<text transform="translate(177.76 493.60) scale(1 1.045)" class="ev">6:16pm</text>
<polygon points="247.03,482.80 248.38,487.64 253.40,487.43 249.22,490.21 250.97,494.92 247.03,491.80 243.09,494.92 244.84,490.21 240.66,487.43 245.68,487.64" fill="#8a4818" stroke="#5a4418" stroke-width="0.9"/><circle cx="247.03" cy="489.50" r="4.5" fill="#8a4818" stroke="#5a4418" stroke-width="0.9"/><polygon points="247.03,482.80 248.38,487.64 253.40,487.43 249.22,490.21 250.97,494.92 247.03,491.80 243.09,494.92 244.84,490.21 240.66,487.43 245.68,487.64" fill="#8a4818"/><circle cx="247.03" cy="489.50" r="3.80" fill="#e02a1c"/><circle cx="247.03" cy="486.90" r="0.55" fill="#e8a040"/><circle cx="244.83" cy="487.90" r="0.55" fill="#e8a040"/><circle cx="244.43" cy="489.90" r="0.55" fill="#e8a040"/><circle cx="249.43" cy="488.70" r="0.55" fill="#e8a040"/><circle cx="249.43" cy="490.30" r="0.55" fill="#e8a040"/><circle cx="245.43" cy="491.70" r="0.55" fill="#e8a040"/><circle cx="248.63" cy="491.70" r="0.55" fill="#e8a040"/>
<text transform="translate(254.23 493.60) scale(1 1.045)" class="ev">6:14pm</text>
<polygon points="323.50,482.80 324.85,487.64 329.87,487.43 325.69,490.21 327.44,494.92 323.50,491.80 319.56,494.92 321.31,490.21 317.13,487.43 322.15,487.64" fill="#8a4818" stroke="#5a4418" stroke-width="0.9"/><circle cx="323.50" cy="489.50" r="4.5" fill="#8a4818" stroke="#5a4418" stroke-width="0.9"/><polygon points="323.50,482.80 324.85,487.64 329.87,487.43 325.69,490.21 327.44,494.92 323.50,491.80 319.56,494.92 321.31,490.21 317.13,487.43 322.15,487.64" fill="#8a4818"/><circle cx="323.50" cy="489.50" r="3.80" fill="#e02a1c"/><circle cx="323.50" cy="486.90" r="0.55" fill="#e8a040"/><circle cx="321.30" cy="487.90" r="0.55" fill="#e8a040"/><circle cx="320.90" cy="489.90" r="0.55" fill="#e8a040"/><circle cx="325.90" cy="488.70" r="0.55" fill="#e8a040"/><circle cx="325.90" cy="490.30" r="0.55" fill="#e8a040"/><circle cx="321.90" cy="491.70" r="0.55" fill="#e8a040"/><circle cx="325.10" cy="491.70" r="0.55" fill="#e8a040"/>
<text transform="translate(330.70 493.60) scale(1 1.045)" class="ev">6:12pm</text>
<polygon points="399.97,482.80 401.32,487.64 406.34,487.43 402.16,490.21 403.91,494.92 399.97,491.80 396.03,494.92 397.78,490.21 393.60,487.43 398.62,487.64" fill="#8a4818" stroke="#5a4418" stroke-width="0.9"/><circle cx="399.97" cy="489.50" r="4.5" fill="#8a4818" stroke="#5a4418" stroke-width="0.9"/><polygon points="399.97,482.80 401.32,487.64 406.34,487.43 402.16,490.21 403.91,494.92 399.97,491.80 396.03,494.92 397.78,490.21 393.60,487.43 398.62,487.64" fill="#8a4818"/><circle cx="399.97" cy="489.50" r="3.80" fill="#e02a1c"/><circle cx="399.97" cy="486.90" r="0.55" fill="#e8a040"/><circle cx="397.77" cy="487.90" r="0.55" fill="#e8a040"/><circle cx="397.37" cy="489.90" r="0.55" fill="#e8a040"/><circle cx="402.37" cy="488.70" r="0.55" fill="#e8a040"/><circle cx="402.37" cy="490.30" r="0.55" fill="#e8a040"/><circle cx="398.37" cy="491.70" r="0.55" fill="#e8a040"/><circle cx="401.57" cy="491.70" r="0.55" fill="#e8a040"/>
<text transform="translate(407.17 493.60) scale(1 1.045)" class="ev">6:10pm</text>
<polygon points="476.44,482.80 477.79,487.64 482.81,487.43 478.63,490.21 480.38,494.92 476.44,491.80 472.50,494.92 474.25,490.21 470.07,487.43 475.09,487.64" fill="#8a4818" stroke="#5a4418" stroke-width="0.9"/><circle cx="476.44" cy="489.50" r="4.5" fill="#8a4818" stroke="#5a4418" stroke-width="0.9"/><polygon points="476.44,482.80 477.79,487.64 482.81,487.43 478.63,490.21 480.38,494.92 476.44,491.80 472.50,494.92 474.25,490.21 470.07,487.43 475.09,487.64" fill="#8a4818"/><circle cx="476.44" cy="489.50" r="3.80" fill="#e02a1c"/><circle cx="476.44" cy="486.90" r="0.55" fill="#e8a040"/><circle cx="474.24" cy="487.90" r="0.55" fill="#e8a040"/><circle cx="473.84" cy="489.90" r="0.55" fill="#e8a040"/><circle cx="478.84" cy="488.70" r="0.55" fill="#e8a040"/><circle cx="478.84" cy="490.30" r="0.55" fill="#e8a040"/><circle cx="474.84" cy="491.70" r="0.55" fill="#e8a040"/><circle cx="478.04" cy="491.70" r="0.55" fill="#e8a040"/>
<text transform="translate(483.64 493.60) scale(1 1.045)" class="ev">6:08pm</text>
<polygon points="552.91,482.80 554.26,487.64 559.28,487.43 555.10,490.21 556.85,494.92 552.91,491.80 548.97,494.92 550.73,490.21 546.54,487.43 551.56,487.64" fill="#8a4818" stroke="#5a4418" stroke-width="0.9"/><circle cx="552.91" cy="489.50" r="4.5" fill="#8a4818" stroke="#5a4418" stroke-width="0.9"/><polygon points="552.91,482.80 554.26,487.64 559.28,487.43 555.10,490.21 556.85,494.92 552.91,491.80 548.97,494.92 550.73,490.21 546.54,487.43 551.56,487.64" fill="#8a4818"/><circle cx="552.91" cy="489.50" r="3.80" fill="#e02a1c"/><circle cx="552.91" cy="486.90" r="0.55" fill="#e8a040"/><circle cx="550.71" cy="487.90" r="0.55" fill="#e8a040"/><circle cx="550.31" cy="489.90" r="0.55" fill="#e8a040"/><circle cx="555.31" cy="488.70" r="0.55" fill="#e8a040"/><circle cx="555.31" cy="490.30" r="0.55" fill="#e8a040"/><circle cx="551.31" cy="491.70" r="0.55" fill="#e8a040"/><circle cx="554.51" cy="491.70" r="0.55" fill="#e8a040"/>
<text transform="translate(560.11 493.60) scale(1 1.045)" class="ev">6:06pm</text>
<polygon points="629.38,482.80 630.73,487.64 635.75,487.43 631.57,490.21 633.32,494.92 629.38,491.80 625.44,494.92 627.20,490.21 623.01,487.43 628.03,487.64" fill="#8a4818" stroke="#5a4418" stroke-width="0.9"/><circle cx="629.38" cy="489.50" r="4.5" fill="#8a4818" stroke="#5a4418" stroke-width="0.9"/><polygon points="629.38,482.80 630.73,487.64 635.75,487.43 631.57,490.21 633.32,494.92 629.38,491.80 625.44,494.92 627.20,490.21 623.01,487.43 628.03,487.64" fill="#8a4818"/><circle cx="629.38" cy="489.50" r="3.80" fill="#e02a1c"/><circle cx="629.38" cy="486.90" r="0.55" fill="#e8a040"/><circle cx="627.18" cy="487.90" r="0.55" fill="#e8a040"/><circle cx="626.78" cy="489.90" r="0.55" fill="#e8a040"/><circle cx="631.78" cy="488.70" r="0.55" fill="#e8a040"/><circle cx="631.78" cy="490.30" r="0.55" fill="#e8a040"/><circle cx="627.78" cy="491.70" r="0.55" fill="#e8a040"/><circle cx="630.98" cy="491.70" r="0.55" fill="#e8a040"/>
<text transform="translate(636.58 493.60) scale(1 1.045)" class="ev">6:04pm</text>
<circle cx="139.66" cy="502.90" r="5.1" fill="#ffffc8" stroke="#737368" stroke-width="0.9"/>
<text transform="translate(146.46 507.10) scale(1 1.045)" class="ev">8:35am</text>
<circle cx="220.87" cy="502.90" r="5.1" fill="#ffffc8" stroke="#737368" stroke-width="0.9"/>
<text transform="translate(227.67 507.10) scale(1 1.045)" class="ev">10:02am</text>
<circle cx="302.18" cy="502.90" r="5.1" fill="#ffffc8" stroke="#737368" stroke-width="0.9"/>
<text transform="translate(308.98 507.10) scale(1 1.045)" class="ev">11:31am</text>
<circle cx="383.38" cy="502.90" r="5.1" fill="#ffffc8" stroke="#737368" stroke-width="0.9"/>
<text transform="translate(390.18 507.10) scale(1 1.045)" class="ev">12:58pm</text>
<circle cx="463.89" cy="502.90" r="5.1" fill="#ffffc8" stroke="#737368" stroke-width="0.9"/>
<text transform="translate(470.69 507.10) scale(1 1.045)" class="ev">2:12pm</text>
<circle cx="543.50" cy="502.90" r="5.1" fill="#ffffc8" stroke="#737368" stroke-width="0.9"/>
<text transform="translate(550.30 507.10) scale(1 1.045)" class="ev">3:09pm</text>
<circle cx="622.15" cy="502.90" r="5.1" fill="#ffffc8" stroke="#737368" stroke-width="0.9"/>
<text transform="translate(628.95 507.10) scale(1 1.045)" class="ev">3:48pm</text>
<circle cx="700.11" cy="502.90" r="5.1" fill="#ffffc8" stroke="#737368" stroke-width="0.9"/>
<text transform="translate(706.91 507.10) scale(1 1.045)" class="ev">4:14pm</text>
<circle cx="171.15" cy="516.60" r="5.1" fill="#cacab6" stroke="#6a6a64" stroke-width="0.9"/>
<text transform="translate(177.95 520.80) scale(1 1.045)" class="ev">6:27pm</text>
<circle cx="248.68" cy="516.60" r="5.1" fill="#cacab6" stroke="#6a6a64" stroke-width="0.9"/>
<text transform="translate(255.48 520.80) scale(1 1.045)" class="ev">6:45pm</text>
<circle cx="326.69" cy="516.60" r="5.1" fill="#cacab6" stroke="#6a6a64" stroke-width="0.9"/>
<text transform="translate(333.49 520.80) scale(1 1.045)" class="ev">7:12pm</text>
<circle cx="405.29" cy="516.60" r="5.1" fill="#cacab6" stroke="#6a6a64" stroke-width="0.9"/>
<text transform="translate(412.09 520.80) scale(1 1.045)" class="ev">7:50pm</text>
<circle cx="484.84" cy="516.60" r="5.1" fill="#cacab6" stroke="#6a6a64" stroke-width="0.9"/>
<text transform="translate(491.64 520.80) scale(1 1.045)" class="ev">8:46pm</text>
<circle cx="565.30" cy="516.60" r="5.1" fill="#cacab6" stroke="#6a6a64" stroke-width="0.9"/>
<text transform="translate(572.10 520.80) scale(1 1.045)" class="ev">9:59pm</text>
<circle cx="646.45" cy="516.60" r="5.1" fill="#cacab6" stroke="#6a6a64" stroke-width="0.9"/>
<text transform="translate(653.25 520.80) scale(1 1.045)" class="ev">11:25pm</text>
<text transform="translate(45.60 479.90) scale(1 1.030)" class="rl" text-anchor="end">Sunrise</text>
<text transform="translate(746.80 479.90) scale(1 1.030)" class="rl">Sunrise</text>
<text transform="translate(45.60 493.50) scale(1 1.030)" class="rl" text-anchor="end">Sunset</text>
<text transform="translate(746.80 493.50) scale(1 1.030)" class="rl">Sunset</text>
<text transform="translate(45.60 507.00) scale(1 1.030)" class="rl" text-anchor="end">Moonrise</text>
<text transform="translate(746.80 507.00) scale(1 1.030)" class="rl">Moonrise</text>
<text transform="translate(45.60 520.70) scale(1 1.030)" class="rl" text-anchor="end">Moonset</text>
<text transform="translate(746.80 520.70) scale(1 1.030)" class="rl">Moonset</text>
<text transform="translate(74.86 534.00) scale(1 1.045)" class="ph">New Moon | 3:48am</text>
<text transform="translate(589.66 534.00) scale(1 1.045)" class="ph">First Quarter | 11:38pm</text>
<text x="396" y="14.3" class="title" text-anchor="middle">Tom Bay, British Columbia (max. tidal range 5.43m 17.8ft)</text>
<text x="396" y="28.8" class="sub" text-anchor="middle">Times are PDT (UTC –7.0hrs). Last Spring Tide on Tue 11 Oct (h=4.99m 16.4ft). Next Spring Tide on Thu 27 Oct (h=5.14m 16.9ft)</text>
</svg></body></html>
